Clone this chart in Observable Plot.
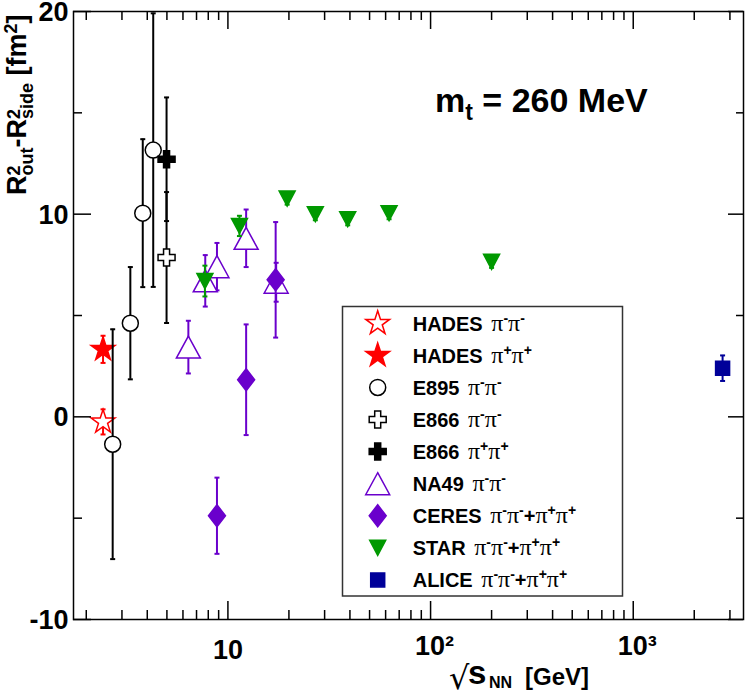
<!DOCTYPE html>
<html><head><meta charset="utf-8">
<script src="https://cdn.jsdelivr.net/npm/d3@7"></script>
<script src="https://cdn.jsdelivr.net/npm/@observablehq/plot@0.6"></script>
<style>body{margin:0;background:#fff;} svg{display:block;} text{white-space:pre;}</style>
</head><body><div id="chart"></div>
<script>
// ---------- data (sqrt(s_NN) [GeV], R_out^2 - R_side^2 [fm^2], error) ----------
const hadesNegX = [2.42], hadesNegY = [-0.25], hadesNegErr = [0.62];
const hadesPosX = [2.42], hadesPosY = [3.33], hadesPosErr = [0.67];
const e895X = [2.7, 3.3, 3.8, 4.28], e895Y = [-1.35, 4.62, 10.05, 13.16], e895Err = [5.67, 2.77, 3.65, 6.75];
const e866NegX = [4.98], e866NegY = [7.86], e866NegErr = [3.23];
const e866PosX = [4.98], e866PosY = [12.71], e866PosErr = [3.05];
const na49X = [6.38, 7.73, 8.83, 12.3, 17.3], na49Y = [3.44, 6.71, 7.41, 8.81, 6.64], na49Err = [1.3, 1.27, 1.17, 1.42, 0.96];
const ceresX = [8.83, 12.3, 17.2], ceresY = [-4.88, 1.83, 6.76], ceresErr = [1.88, 2.73, 2.85];
const starX = [7.7, 11.4, 19.6, 27, 39, 62.4, 200], starY = [6.7, 9.42, 10.77, 10.0, 9.75, 10.05, 7.65], starErr = [0.76, 0.5, 0.3, 0.3, 0.3, 0.3, 0.3];
const aliceX = [2760], aliceY = [2.4], aliceErr = [0.63];

const legendNames = ["HADES", "HADES", "E895", "E866", "E866", "NA49", "CERES", "STAR", "ALICE"];
const legendPairs = ["π-π-", "π+π+", "π-π-", "π-π-", "π+π+", "π-π-", "π-π-+π+π+", "π-π-+π+π+", "π-π-+π+π+"];

const xMajorTicks = [10, 100, 1000];
const xTickLabels = ["10", "10²", "10³"];
const xMinorTicks = [2, 3, 4, 5, 6, 7, 8, 9, 20, 30, 40, 50, 60, 70, 80, 90, 200, 300, 400, 500, 600, 700, 800, 900, 2000, 3000];
const yMajorTicks = [-10, 0, 10, 20];
const yTickLabels = ["-10", "0", "10", "20"];
const yMinorTicks = [-5, 5, 15];

// ---------- styles ----------
const SANS = "'Liberation Sans', Arial, Helvetica, sans-serif";
const SERIF = "'Liberation Serif', 'Times New Roman', serif";
const RED = "#ff0000", PURPLE = "#6a00cc", GREEN = "#009900", NAVY = "#000099";

function poly(pts) { return { draw(ctx) { ctx.moveTo(pts[0][0], pts[0][1]); for (let k = 1; k < pts.length; k++) ctx.lineTo(pts[k][0], pts[k][1]); ctx.closePath(); } }; }
const starSym = { draw(ctx) { const R = 12.5, r = R * 0.382; for (let k = 0; k < 10; k++) { const a = -Math.PI / 2 + k * Math.PI / 5, rr = k % 2 ? r : R; const px = rr * Math.cos(a), py = rr * Math.sin(a); k ? ctx.lineTo(px, py) : ctx.moveTo(px, py); } ctx.closePath(); } };
const circleSym = { draw(ctx) { ctx.moveTo(8, 0); ctx.arc(0, 0, 8, 0, 2 * Math.PI); } };
const crossSym = poly([[-3, -8.5], [3, -8.5], [3, -3], [8.5, -3], [8.5, 3], [3, 3], [3, 8.5], [-3, 8.5], [-3, 3], [-8.5, 3], [-8.5, -3], [-3, -3]]);
const triUpSym = poly([[0, -11], [12, 11], [-12, 11]]);
const triDownSym = poly([[0, 7.5], [8, -7.5], [-8, -7.5]]);
const diamondSym = poly([[0, -11], [8.5, 0], [0, 11], [-8.5, 0]]);
const squareSym = poly([[-7, -7], [7, -7], [7, 7], [-7, 7]]);
const capSym = { draw(ctx) { ctx.moveTo(-2.5, 0); ctx.lineTo(2.5, 0); } };

const series = [
  { X: hadesNegX, Y: hadesNegY, E: hadesNegErr, sym: starSym, fill: "white", stroke: RED, err: RED },
  { X: hadesPosX, Y: hadesPosY, E: hadesPosErr, sym: starSym, fill: RED, stroke: RED, err: RED },
  { X: e895X, Y: e895Y, E: e895Err, sym: circleSym, fill: "white", stroke: "black", err: "black" },
  { X: e866NegX, Y: e866NegY, E: e866NegErr, sym: crossSym, fill: "white", stroke: "black", err: "black" },
  { X: e866PosX, Y: e866PosY, E: e866PosErr, sym: crossSym, fill: "black", stroke: "black", err: "black" },
  { X: na49X, Y: na49Y, E: na49Err, sym: triUpSym, fill: "white", stroke: PURPLE, err: PURPLE },
  { X: ceresX, Y: ceresY, E: ceresErr, sym: diamondSym, fill: PURPLE, stroke: PURPLE, err: PURPLE },
  { X: starX, Y: starY, E: starErr, sym: triDownSym, fill: GREEN, stroke: GREEN, err: GREEN },
  { X: aliceX, Y: aliceY, E: aliceErr, sym: squareSym, fill: NAVY, stroke: NAVY, err: NAVY }
];

const W = 747, H = 695, mL = 73, mR = 4, mT = 11, mB = 76;
const FW = W - mL - mR, FH = H - mT - mB;

const dataMarks = series.flatMap(s => {
  const idx = d3.range(s.X.length);
  return [
    Plot.ruleX(idx, { x: i => s.X[i], y1: i => s.Y[i] - s.E[i], y2: i => s.Y[i] + s.E[i], stroke: s.err, strokeWidth: 2, clip: true }),
    Plot.dot(idx, { x: i => s.X[i], y: i => s.Y[i] - s.E[i], symbol: capSym, stroke: s.err, strokeWidth: 2, clip: true }),
    Plot.dot(idx, { x: i => s.X[i], y: i => s.Y[i] + s.E[i], symbol: capSym, stroke: s.err, strokeWidth: 2, clip: true }),
    Plot.dot(idx, { x: i => s.X[i], y: i => s.Y[i], symbol: s.sym, fill: s.fill, stroke: s.stroke, strokeWidth: 1.5, clip: true })
  ];
});

const tickMarks = [
  Plot.ruleX(xMajorTicks, { x: d => d, insetTop: FH - 18, stroke: "black", strokeWidth: 1.5 }),
  Plot.ruleX(xMinorTicks, { x: d => d, insetTop: FH - 9, stroke: "black", strokeWidth: 1.5 }),
  Plot.ruleX(xMajorTicks, { x: d => d, insetBottom: FH - 18, stroke: "black", strokeWidth: 1.5 }),
  Plot.ruleX(xMinorTicks, { x: d => d, insetBottom: FH - 9, stroke: "black", strokeWidth: 1.5 }),
  Plot.ruleY(yMajorTicks, { y: d => d, insetRight: FW - 18, stroke: "black", strokeWidth: 1.5 }),
  Plot.ruleY(yMinorTicks, { y: d => d, insetRight: FW - 9, stroke: "black", strokeWidth: 1.5 }),
  Plot.ruleY(yMajorTicks, { y: d => d, insetLeft: FW - 15, stroke: "black", strokeWidth: 1.5 }),
  Plot.ruleY(yMinorTicks, { y: d => d, insetLeft: FW - 7, stroke: "black", strokeWidth: 1.5 }),
  Plot.text(yMajorTicks, { y: d => d, text: (d, i) => yTickLabels[i], frameAnchor: "left", dx: -5, dy: 1, textAnchor: "end", fontSize: 27, fontWeight: "bold", fill: "black" }),
  Plot.text([xMajorTicks[0]], { x: d => d, text: () => xTickLabels[0], frameAnchor: "bottom", lineAnchor: "bottom", dy: 39, fontSize: 27, fontWeight: "bold", fill: "black" }),
  Plot.text(xMajorTicks.slice(1), { x: d => d, text: (d, i) => xTickLabels[i + 1], frameAnchor: "bottom", lineAnchor: "bottom", dy: 35, dx: 4, fontSize: 27, fontWeight: "bold", fill: "black" }),
  Plot.frame({ stroke: "black", strokeWidth: 1.5 })
];

const chart = Plot.plot({
  width: W, height: H,
  marginLeft: mL, marginRight: mR, marginTop: mT, marginBottom: mB,
  x: { type: "log", domain: [1.73, 3500], axis: null },
  y: { domain: [-10, 20], axis: null },
  style: { fontFamily: SANS, background: "white", overflow: "visible" },
  marks: [...dataMarks, ...tickMarks]
});
document.getElementById("chart").append(chart);

// ---------- rich-text labels and legend ----------
const svg = d3.select(chart);

// y-axis title
const yl = svg.append("text").attr("transform", "translate(25.5,195) rotate(-90)").attr("text-anchor", "start")
  .attr("font-family", SANS).attr("font-weight", "bold").attr("font-size", 27).attr("fill", "black");
yl.append("tspan").text("R");
yl.append("tspan").attr("font-size", 18).attr("dy", -6).text("2");
yl.append("tspan").attr("font-size", 18).attr("dx", -10).attr("dy", 13.5).text("out");
yl.append("tspan").attr("dy", -7.5).text("-R");
yl.append("tspan").attr("font-size", 18).attr("dy", -6).text("2");
yl.append("tspan").attr("font-size", 18).attr("dx", -10).attr("dy", 13.5).text("side");
yl.append("tspan").attr("dy", -7.5).text(" [fm");
yl.append("tspan").attr("font-size", 18).attr("dy", -9).text("2");
yl.append("tspan").attr("dy", 9).text("]");

// x-axis title
const xl = svg.append("g").attr("font-family", SANS).attr("font-weight", "bold").attr("fill", "black").attr("text-anchor", "start");
xl.append("text").attr("x", 449).attr("y", 689).attr("font-family", "'DejaVu Sans', sans-serif").attr("font-weight", "normal").attr("font-size", 32).text("√");
xl.append("text").attr("x", 468).attr("y", 684).attr("font-size", 33).text("s");
xl.append("text").attr("x", 489).attr("y", 688).attr("font-size", 16).text("NN");
xl.append("text").attr("x", 525).attr("y", 685).attr("font-size", 24).text("[GeV]");

// m_t annotation
const mt = svg.append("text").attr("x", 435).attr("y", 112).attr("text-anchor", "start").attr("font-family", SANS).attr("font-weight", "bold").attr("font-size", 34).attr("fill", "black");
mt.append("tspan").text("m");
mt.append("tspan").attr("font-size", 23).attr("dy", 8).text("t");
mt.append("tspan").attr("dy", -8).text(" = 260 MeV");

// legend
const lg = svg.append("g").attr("text-anchor", "start");
lg.append("rect").attr("x", 342.5).attr("y", 306.5).attr("width", 280).attr("height", 289.5)
  .attr("fill", "white").attr("stroke", "#333").attr("stroke-width", 1.5);
series.forEach((s, i) => {
  const cy = 323.3 + i * 32.08;
  const p = d3.path(); s.sym.draw(p, 0);
  lg.append("path").attr("d", p.toString()).attr("transform", `translate(377.7,${cy})`)
    .attr("fill", s.fill).attr("stroke", s.stroke).attr("stroke-width", 1.5);
  const t = lg.append("text").attr("x", 412.7).attr("y", cy + 7.5).attr("font-family", SANS)
    .attr("font-weight", "bold").attr("font-size", 20).attr("fill", "black");
  t.append("tspan").text(legendNames[i] + " ");
  const str = legendPairs[i];
  let raised = false;
  for (let k = 0; k < str.length; k++) {
    const c = str[k];
    if (c === "π") {
      t.append("tspan").attr("font-family", SERIF).attr("font-weight", "normal").attr("font-size", 24)
        .attr("dx", k === 0 ? 3 : 0).attr("dy", raised ? 8 : 0).text("π");
      raised = false;
    } else if (str[k - 1] === "π") {
      t.append("tspan").attr("font-size", 14).attr("dy", -8).text(c);
      raised = true;
    } else {
      t.append("tspan").attr("font-size", 20).attr("dy", raised ? 8 : 0).text(c);
      raised = false;
    }
  }
});
</script>
</body></html>
